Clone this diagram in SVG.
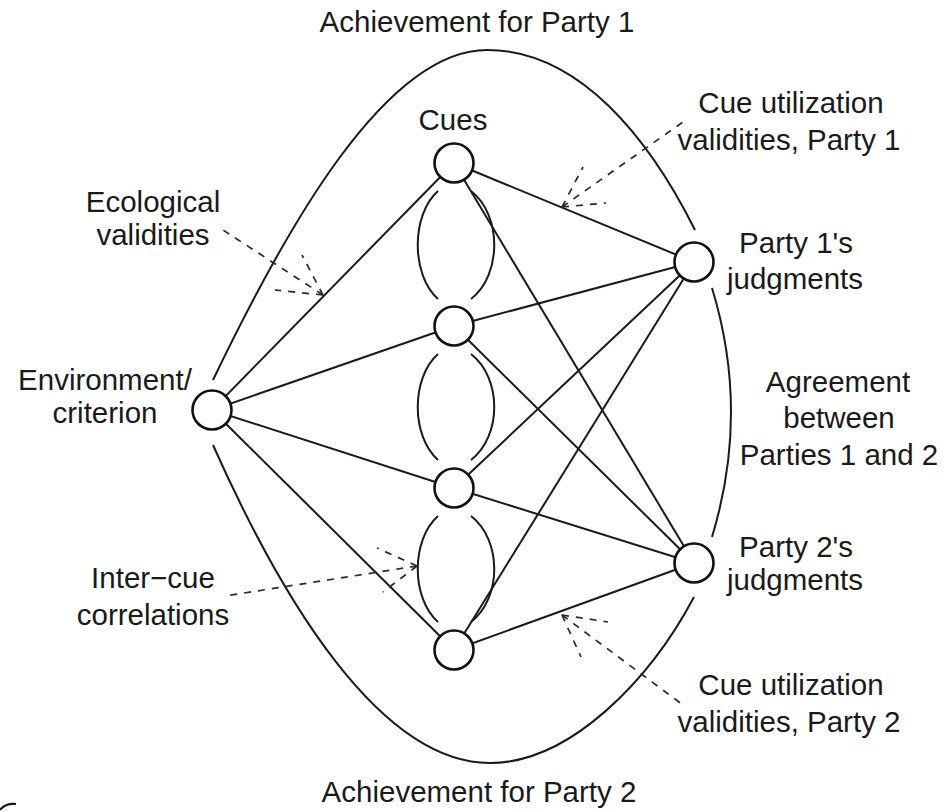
<svg xmlns="http://www.w3.org/2000/svg" width="944" height="811" viewBox="0 0 944 811">
<style>
  .t { font-family: "Liberation Sans", Arial, sans-serif; font-size: 29.5px; fill: #1a1a1a; text-anchor: middle; }
  .s { fill: none; stroke: #1a1a1a; stroke-width: 2; }
  .arc { fill: none; stroke: #1a1a1a; stroke-width: 2; }
  .d { fill: none; stroke: #2a2a2a; stroke-width: 1.7; stroke-dasharray: 7 7; }
  .n { fill: #ffffff; stroke: #111; stroke-width: 2.6; }
</style>
<rect width="944" height="811" fill="#ffffff"/>

<g id="achievement-arcs">
  <path class="arc" d="M213,380 C285,230 385,50 487,50 C580,50 650,140 695,230"/>
  <path class="arc" d="M712,288 Q750,412 712,537"/>
  <path class="arc" d="M694,597 C650,680 570,763 490,763 C380,763 282,600 213,445"/>
</g>

<g id="intercue-arcs">
  <path class="arc" d="M438,191 C411,215 411,275 438,299"/>
  <path class="arc" d="M471,191 C502,215 502,275 471,299"/>
  <path class="arc" d="M438,354 C411,378 411,436 438,460"/>
  <path class="arc" d="M471,354 C502,378 502,436 471,460"/>
  <path class="arc" d="M438,516 C411,540 411,598 438,622"/>
  <path class="arc" d="M471,516 C502,540 502,598 471,622"/>
</g>

<g id="connectors">
  <line class="s" x1="212" y1="410" x2="454" y2="163"/>
  <line class="s" x1="212" y1="410" x2="454" y2="326"/>
  <line class="s" x1="212" y1="410" x2="454" y2="488"/>
  <line class="s" x1="212" y1="410" x2="454" y2="650"/>
  <line class="s" x1="454" y1="163" x2="694" y2="262"/>
  <line class="s" x1="454" y1="163" x2="694" y2="563"/>
  <line class="s" x1="454" y1="326" x2="694" y2="262"/>
  <line class="s" x1="454" y1="326" x2="694" y2="563"/>
  <line class="s" x1="454" y1="488" x2="694" y2="262"/>
  <line class="s" x1="454" y1="488" x2="694" y2="563"/>
  <line class="s" x1="454" y1="650" x2="694" y2="262"/>
  <line class="s" x1="454" y1="650" x2="694" y2="563"/>
</g>

<g id="pointers">
  <path class="d" d="M323,295 L223,230"/>
  <path class="d" d="M323,295 L302,255"/>
  <path class="d" d="M323,295 L275,290"/>
  <path class="d" d="M562,207 L683,122"/>
  <path class="d" d="M562,207 L583,167"/>
  <path class="d" d="M562,207 L606,203"/>
  <path class="d" d="M562,615 L683,705"/>
  <path class="d" d="M562,615 L581,657"/>
  <path class="d" d="M562,615 L608,622"/>
  <path class="d" d="M417,566 L225,596"/>
  <path class="d" d="M417,566 L377,548"/>
  <path class="d" d="M417,566 L383,592"/>
</g>

<g id="environment">
  <circle class="n" cx="212" cy="410" r="19.5"/>
  <text class="t" x="105" y="390">Environment/</text>
  <text class="t" x="105" y="423">criterion</text>
</g>
<g id="cue1">
  <circle class="n" cx="454" cy="163" r="19.5"/>
  <text class="t" x="453" y="130">Cues</text>
</g>
<g id="cue2"><circle class="n" cx="454" cy="326" r="19.5"/></g>
<g id="cue3"><circle class="n" cx="454" cy="488" r="19.5"/></g>
<g id="cue4"><circle class="n" cx="454" cy="650" r="19.5"/></g>
<g id="party1">
  <circle class="n" cx="694" cy="262" r="19.5"/>
  <text class="t" x="796" y="253">Party 1's</text>
  <text class="t" x="795" y="289">judgments</text>
</g>
<g id="party2">
  <circle class="n" cx="694" cy="563" r="19.5"/>
  <text class="t" x="796" y="557">Party 2's</text>
  <text class="t" x="795" y="590">judgments</text>
</g>

<g id="labels">
  <text class="t" x="477" y="32">Achievement for Party 1</text>
  <text class="t" x="479" y="802">Achievement for Party 2</text>
  <text class="t" x="791" y="113">Cue utilization</text>
  <text class="t" x="789" y="150">validities, Party 1</text>
  <text class="t" x="791" y="695">Cue utilization</text>
  <text class="t" x="789" y="732">validities, Party 2</text>
  <text class="t" x="153" y="212">Ecological</text>
  <text class="t" x="153" y="245">validities</text>
  <text class="t" x="838" y="392">Agreement</text>
  <text class="t" x="839" y="428">between</text>
  <text class="t" x="839" y="465">Parties 1 and 2</text>
  <text class="t" x="153" y="588">Inter−cue</text>
  <text class="t" x="153" y="625">correlations</text>
</g>

<path class="arc" d="M0,810 Q5,803 16,804"/>
</svg>
